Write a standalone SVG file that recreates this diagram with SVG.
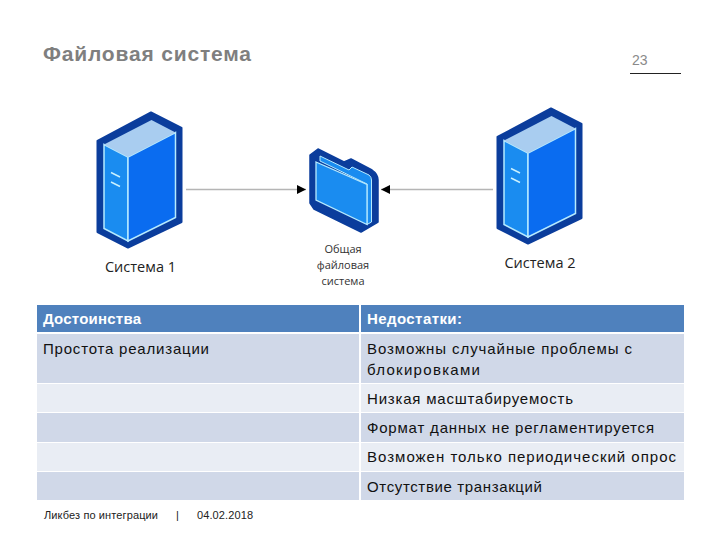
<svg xmlns="http://www.w3.org/2000/svg" width="720" height="540" viewBox="0 0 720 540">
<defs>
<marker id="arrow" markerUnits="userSpaceOnUse" markerWidth="10" markerHeight="10" refX="9" refY="5" orient="auto"><path d="M0 0.5L9 5L0 9.500Z" fill="#000"/></marker>
<g id="server">
<path d="M151 112.500L181.500 128V222L128 247.500L97.500 232V141Z" fill="#0b3d9c" stroke="#0b3d9c" stroke-width="2" stroke-linejoin="round"/>
<path d="M104 144.500L128 157V241L104 228.500Z" fill="#1a8cf0" stroke="#b5eaff" stroke-width="1.500"/>
<path d="M128 157L175.500 132.500V217.500L128 241Z" fill="#0a6cf0" stroke="#b5eaff" stroke-width="1.500"/>
<path d="M151.500 120L175.500 132.500L128 157L104 144.500Z" fill="#a9cdf0"/>
<path d="M111 172.500L120 177M111 182L120 186.500" stroke="#c8f0ff" stroke-width="1.500" fill="none"/>
</g>
</defs>
<style>
.title{font-size:21px;font-weight:700;fill:#7f7f7f;font-family:"Liberation Sans","Open Sans",sans-serif}
.label{font-size:14.500px;fill:#222;text-anchor:middle;font-family:"Open Sans","Noto Sans",sans-serif}
.small{font-size:11px;fill:#333;text-anchor:middle;font-family:"Open Sans","Noto Sans",sans-serif}
.head{font-size:15px;font-weight:700;fill:#fff;font-family:"Liberation Sans",sans-serif}
.cell{font-size:15px;fill:#111;font-family:"Liberation Sans",sans-serif}
.foot{font-size:11px;fill:#222;font-family:"Liberation Sans",sans-serif}
.hdr{fill:#4f81bd}.dark{fill:#d0d8e8}.light{fill:#e9edf4}
.conn{stroke:#b5b5b5;stroke-width:1.500;fill:none;marker-end:url(#arrow)}
</style>
<g id="heading">
<text class="title" x="43" y="61" textLength="208">Файловая система</text>
<text x="632" y="65" font-size="14" fill="#8a8a8a" style="font-family:'Liberation Sans',sans-serif">23</text>
<line x1="630" y1="73.500" x2="681" y2="73.500" stroke="#222" stroke-width="1"/>
</g>
<g id="connectors">
<line class="conn" x1="186" y1="189.500" x2="306" y2="189.500"/>
<line class="conn" x1="493" y1="189.500" x2="381" y2="189.500"/>
</g>
<g id="system1"><use href="#server"/><text class="label" x="140.500" y="272">Система 1</text></g>
<g id="system2"><use href="#server" x="400" y="-4"/><text class="label" x="540" y="268">Система 2</text></g>
<g id="folder">
<path d="M318 149L344 162L351 159L372 170Q378 174 378 180V222L361 232L314 209L310 203V155Z" fill="#0b3d9c" stroke="#0b3d9c" stroke-width="1.500" stroke-linejoin="round"/>
<path d="M320 156L349 170L352 167L369 175Q371.500 177 371.500 180V222L367 224.500V184L320 161Z" fill="#1a8cf0" stroke="#b5eaff" stroke-width="1"/>
<path d="M316 162L367 184.500V224.500L316 200Z" fill="#1a8cf0" stroke="#b5eaff" stroke-width="1.300"/>
<text class="small" x="343" y="253">Общая</text>
<text class="small" x="343" y="269">файловая</text>
<text class="small" x="343" y="285">система</text>
</g>
<g id="table">
<rect class="hdr" x="37" y="305" width="322" height="27"/>
<rect class="hdr" x="361" y="305" width="323" height="27"/>
<rect class="dark" x="37" y="334" width="322" height="49"/>
<rect class="dark" x="361" y="334" width="323" height="49"/>
<rect class="light" x="37" y="384" width="322" height="28"/>
<rect class="light" x="361" y="384" width="323" height="28"/>
<rect class="dark" x="37" y="413" width="322" height="29"/>
<rect class="dark" x="361" y="413" width="323" height="29"/>
<rect class="light" x="37" y="443" width="322" height="28"/>
<rect class="light" x="361" y="443" width="323" height="28"/>
<rect class="dark" x="37" y="472" width="322" height="28"/>
<rect class="dark" x="361" y="472" width="323" height="28"/>
<text class="head" x="43" y="324" textLength="98">Достоинства</text>
<text class="head" x="367" y="324" textLength="95">Недостатки:</text>
<text class="cell" x="43" y="354" textLength="166">Простота реализации</text>
<text class="cell" x="367" y="354" textLength="265">Возможны случайные проблемы с</text>
<text class="cell" x="367" y="375" textLength="113">блокировками</text>
<text class="cell" x="367" y="404" textLength="206">Низкая масштабируемость</text>
<text class="cell" x="367" y="433" textLength="287">Формат данных не регламентируется</text>
<text class="cell" x="367" y="462" textLength="309">Возможен только периодический опрос</text>
<text class="cell" x="367" y="492" textLength="175">Отсутствие транзакций</text>
</g>
<g id="footer">
<text class="foot" x="44" y="519" textLength="114">Ликбез по интеграции</text>
<text class="foot" x="176" y="519">|</text>
<text class="foot" x="197" y="519" textLength="56">04.02.2018</text>
</g>
</svg>
